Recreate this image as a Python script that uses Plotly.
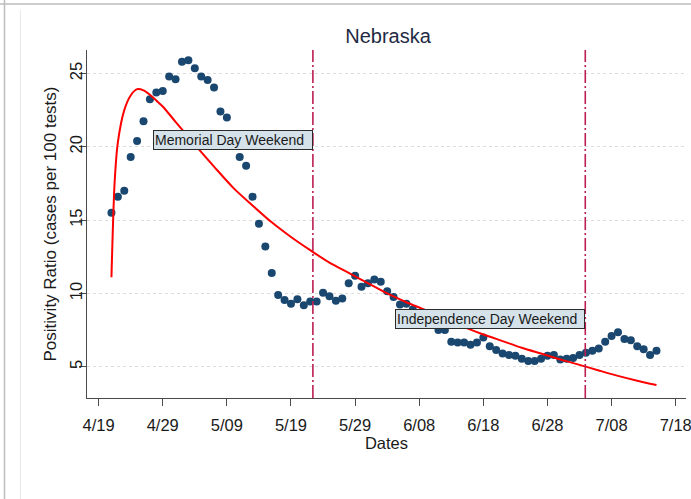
import plotly.graph_objects as go
import pandas as pd

# ---------------- data ----------------
obs_dates = pd.date_range("2020-04-21", "2020-07-15", freq="D").strftime("%Y-%m-%d").tolist()

positivity = [
    # April 21-30
    15.5, 16.6, 17.0, 19.3, 20.4, 21.75, 23.25, 23.7, 23.8, 24.8,
    # May 1-31
    24.6, 25.8, 25.9, 25.35, 24.8, 24.55, 24.05, 22.4, 22.0, None,
    19.3, 18.7, 16.6, 14.75, 13.2, 11.4, 9.9, 9.55, 9.3, 9.6,
    9.2, 9.45, 9.45, 10.05, 9.8, 9.5, 9.65, 10.7, 11.2, 10.45, 10.7,
    # June 1-30
    10.95, 10.8, 10.15, 9.75, 9.25, 9.3, 8.9, None, None, None,
    7.5, 7.5, 6.7, 6.65, 6.65, 6.5, 6.65, 7.0, 6.4, 6.15,
    5.9, 5.8, 5.75, 5.55, 5.4, 5.4, 5.55, 5.75, 5.8, 5.5,
    # July 1-15
    5.55, 5.6, 5.8, 5.95, 6.1, 6.25, 6.7, 7.1, 7.35, 6.9,
    6.8, 6.4, 6.2, 5.8, 6.1,
]

fit_dates = [
    "2020-04-21 00:00", "2020-04-21 12:00", "2020-04-22", "2020-04-23", "2020-04-24",
    "2020-04-25", "2020-04-26", "2020-04-27", "2020-04-28", "2020-04-29",
    "2020-05-01", "2020-05-04", "2020-05-07", "2020-05-10", "2020-05-13",
    "2020-05-16", "2020-05-19", "2020-05-22", "2020-05-25", "2020-05-28",
    "2020-05-31", "2020-06-03", "2020-06-06", "2020-06-09", "2020-06-12",
    "2020-06-15", "2020-06-18", "2020-06-21", "2020-06-24", "2020-06-27",
    "2020-06-30", "2020-07-03", "2020-07-06", "2020-07-09", "2020-07-12",
    "2020-07-15",
]
fit_values = [
    11.1, 17.6, 20.3, 22.5, 23.5,
    23.93, 23.85, 23.55, 23.15, 22.75,
    21.7, 20.15, 18.65, 17.2, 16.0,
    14.85, 13.85, 12.95, 12.1, 11.4,
    10.7, 10.0, 9.4, 8.85, 8.25,
    7.7, 7.2, 6.75, 6.3, 5.9,
    5.5, 5.13, 4.75, 4.38, 4.05,
    3.75,
]

event_dates = ["2020-05-22 10:00", "2020-07-03 21:30"]
event_labels = ["Memorial Day Weekend", "Independence Day Weekend"]
event_label_y = [20.47, 8.27]
event_label_w = [156, 186]

xtick_vals = ["2020-04-19", "2020-04-29", "2020-05-09", "2020-05-19", "2020-05-29",
              "2020-06-08", "2020-06-18", "2020-06-28", "2020-07-08", "2020-07-18"]
xtick_text = ["4/19", "4/29", "5/09", "5/19", "5/29", "6/08", "6/18", "6/28", "7/08", "7/18"]
ytick_vals = [5, 10, 15, 20, 25]

FONT = "Liberation Sans, Arial, sans-serif"
NAVY = "#1A476F"
LINE_RED = "#FF0000"
EVENT_COL = "#BC1F52"
AXIS_COL = "#4A4A4A"

fig = go.Figure()

fig.add_trace(go.Scatter(
    x=obs_dates, y=positivity, mode="markers",
    marker=dict(color=NAVY, size=8, line=dict(width=0)),
    showlegend=False, hoverinfo="x+y",
))

fig.add_trace(go.Scatter(
    x=fit_dates, y=fit_values, mode="lines",
    line=dict(color=LINE_RED, width=2, shape="spline", smoothing=0.8),
    showlegend=False, hoverinfo="x+y",
))

for d in event_dates:
    fig.add_shape(type="line", xref="x", yref="paper", x0=d, x1=d, y0=0, y1=1,
                  line=dict(color=EVENT_COL, width=1.6, dash="13px,3px,2px,3px"),
                  layer="above")

for d, txt, yv, w in zip(event_dates, event_labels, event_label_y, event_label_w):
    fig.add_annotation(x=d, y=yv, xref="x", yref="y", text=txt, showarrow=False,
                       xanchor="right", yanchor="middle", align="left",
                       width=w, height=16, borderpad=1,
                       bgcolor="#D6E2E9", bordercolor="#2B2B2B", borderwidth=1,
                       font=dict(family=FONT, size=14, color="#1A1A1A"))

# frame of the page (screenshot borders)
def px2paper_x(px):
    return (px - 87) / 599.0

def px2paper_y(py):
    return (398 - py) / 348.0

fig.add_shape(type="line", xref="paper", yref="paper",
              x0=px2paper_x(0), x1=px2paper_x(691), y0=px2paper_y(4), y1=px2paper_y(4),
              line=dict(color="#BDBDBD", width=1.5))
fig.add_shape(type="line", xref="paper", yref="paper",
              x0=px2paper_x(4.5), x1=px2paper_x(4.5), y0=px2paper_y(0), y1=px2paper_y(499),
              line=dict(color="#BDBDBD", width=1.5))
fig.add_shape(type="line", xref="paper", yref="paper",
              x0=px2paper_x(20.5), x1=px2paper_x(20.5), y0=px2paper_y(10), y1=px2paper_y(499),
              line=dict(color="#E8E8E8", width=1))

fig.update_layout(
    width=691, height=499, autosize=False,
    margin=dict(l=87, r=5, t=50, b=101),
    paper_bgcolor="white", plot_bgcolor="white",
    font=dict(family=FONT, color="#1A1A1A"),
    title=dict(text="Nebraska", x=0.5025, xref="paper", xanchor="center",
               y=1 - 36 / 499, yref="container", yanchor="middle",
               font=dict(family=FONT, size=20, color="#1F2A44")),
    xaxis=dict(
        type="date", range=["2020-04-17 04:30", "2020-07-19 14:30"],
        tickvals=xtick_vals, ticktext=xtick_text, tickangle=0,
        ticks="outside", ticklen=7, tickwidth=1, tickcolor=AXIS_COL,
        showline=True, linecolor=AXIS_COL, linewidth=1,
        showgrid=False, zeroline=False, ticklabelstandoff=5,
        ticklabeloverflow="allow", automargin=False,
        tickfont=dict(family=FONT, size=16.5, color="#1A1A1A"),
        title=dict(text="Dates", standoff=2, font=dict(family=FONT, size=16.5, color="#1A1A1A")),
    ),
    yaxis=dict(
        range=[2.87, 26.6], tickvals=ytick_vals, tickangle=-90,
        ticks="outside", ticklen=7, tickwidth=1, tickcolor=AXIS_COL,
        showline=True, linecolor=AXIS_COL, linewidth=1,
        showgrid=True, gridcolor="#DCDCDC", gridwidth=1, griddash="dot",
        zeroline=False, ticklabelstandoff=-10,
        tickfont=dict(family=FONT, size=16.5, color="#1A1A1A"),
        title=dict(text="Positivity Ratio (cases per 100 tests)", standoff=6,
                   font=dict(family=FONT, size=17, color="#1A1A1A")),
    ),
)

fig.write_html("out.html", config={"displayModeBar": False},
               post_script="document.body.style.margin='0';")
